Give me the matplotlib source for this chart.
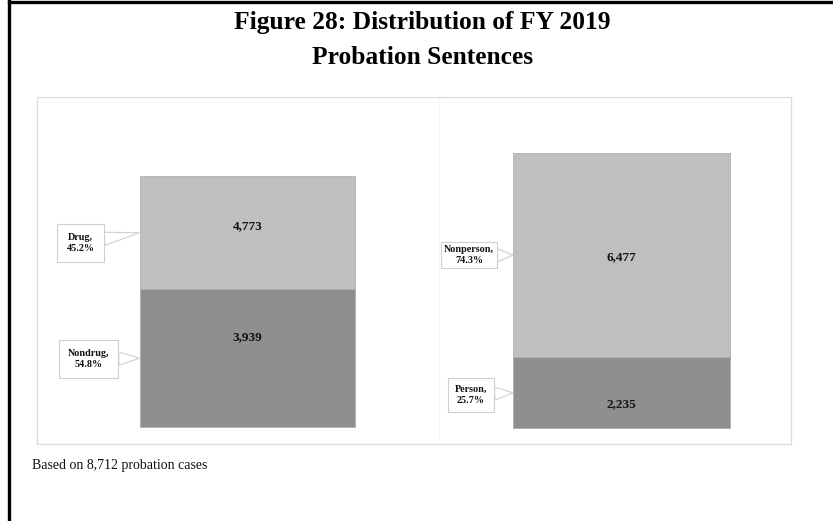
import matplotlib.pyplot as plt
from matplotlib.lines import Line2D

# probation sentence breakdown, FY 2019
left_cats = ['Nondrug', 'Drug']
left_pct = [54.8, 45.2]
left_counts = ['3,939', '4,773']

right_cats = ['Person', 'Nonperson']
right_pct = [25.7, 74.3]
right_counts = ['2,235', '6,477']

total_cases = 8712

W, H = 833, 521
SERIF = 'Liberation Serif'
seg_colors = ['#8f8f8f', '#bfbfbf']

fig = plt.figure(figsize=(W / 100, H / 100), dpi=100)
fig.patch.set_facecolor('white')

# frame lines along the top and left of the page
fig.add_artist(Line2D([9 / W, 9 / W], [0, 1 - 1 / H], transform=fig.transFigure,
                      color='black', lw=2.4))
fig.add_artist(Line2D([9 / W, 1], [1 - 2 / H, 1 - 2 / H], transform=fig.transFigure,
                      color='black', lw=2.4))


def px_axes(x0, x1, y0, y1):
    return fig.add_axes([x0 / W, 1 - y1 / H, (x1 - x0) / W, (y1 - y0) / H])


def draw_panel(ax, cats, pct, counts, xc, width, ylim, label_pos, offsets, pads):
    bottom = 0
    for i, (cat, p, c) in enumerate(zip(cats, pct, counts)):
        ax.bar(xc, p, width=width, bottom=bottom, color=seg_colors[i],
               edgecolor='#a8a8a8', linewidth=0.5)
        ax.text(xc, bottom + p * label_pos[i], c, ha='center', va='center',
                fontsize=9.5, fontweight='bold', family=SERIF, color='#111111')
        ax.annotate(f'{cat},\n{p:.1f}%', xy=(xc - width / 2, bottom + p / 2),
                    xytext=offsets[i], textcoords='offset pixels',
                    ha='center', va='center', fontsize=7.3, fontweight='bold',
                    family=SERIF, color='#111111', linespacing=1.25,
                    bbox=dict(boxstyle=f'square,pad={pads[i]}', fc='white',
                              ec='#cfcfcf', lw=0.8),
                    arrowprops=dict(arrowstyle='wedge,tail_width=1.3',
                                    fc='white', ec='#cfcfcf', lw=0.8,
                                    shrinkA=0, shrinkB=0))
        bottom += p
    ax.set_xlim(0, 1)
    ax.set_ylim(*ylim)
    ax.set_xticks([])
    ax.set_yticks([])
    for s in ax.spines.values():
        s.set_color('#dcdcdc')
        s.set_linewidth(0.9)


ax1 = px_axes(37, 440, 97, 444)
draw_panel(ax1, left_cats, left_pct, left_counts, xc=0.522, width=0.535,
           ylim=(-6.8, 131.5), label_pos=[0.65, 0.56],
           offsets=[(-51, -1), (-59, -10)], pads=[0.9, 0.9])
ax1.spines['right'].set_color('#c4c4c4')

ax2 = px_axes(440, 791, 97, 444)
draw_panel(ax2, right_cats, right_pct, right_counts, xc=0.517, width=0.618,
           ylim=(-5.8, 120.4), label_pos=[0.34, 0.49],
           offsets=[(-42, -2), (-44, 0)], pads=[0.7, 0.3])
ax2.spines['left'].set_visible(False)

fig.text(422.5 / W, 1 - 22 / H, 'Figure 28: Distribution of FY 2019', ha='center',
         va='center', fontsize=18.4, fontweight='bold', family=SERIF)
fig.text(422.5 / W, 1 - 57 / H, 'Probation Sentences', ha='center',
         va='center', fontsize=18.4, fontweight='bold', family=SERIF)

fig.text(32 / W, 1 - 465 / H, f'Based on {total_cases:,} probation cases',
         ha='left', va='center', fontsize=10, family=SERIF, color='#111111')

fig.savefig('out.png', dpi=100, facecolor='white')
